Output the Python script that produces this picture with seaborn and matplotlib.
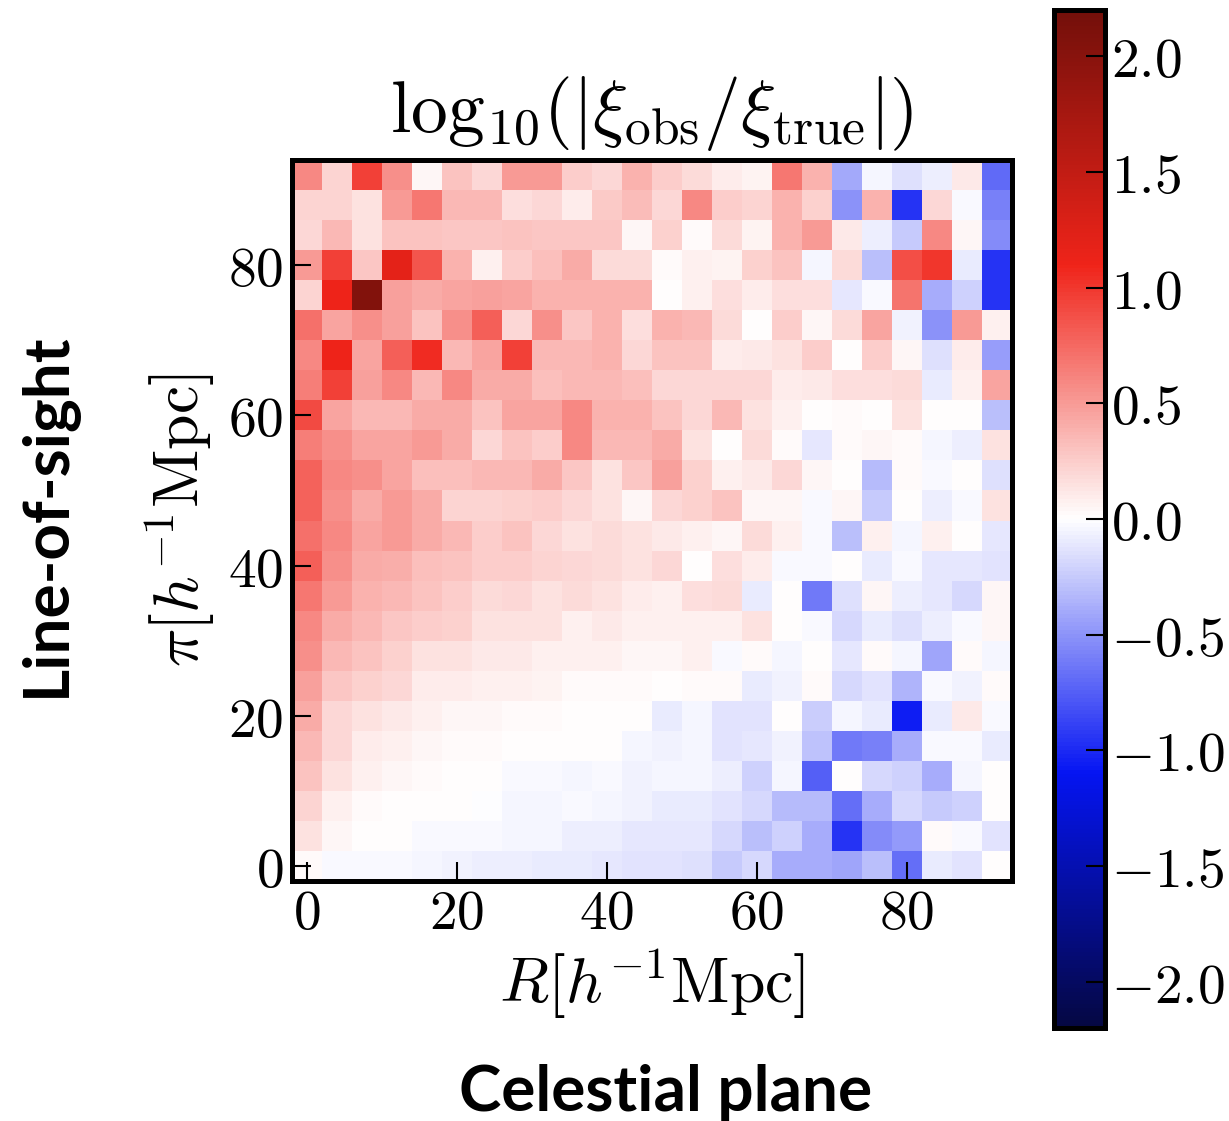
import numpy as np
import pandas as pd
import matplotlib
matplotlib.use("Agg")
import matplotlib.pyplot as plt
from matplotlib.ticker import FuncFormatter
from matplotlib.colors import LinearSegmentedColormap
import seaborn as sns

# Projected separation bins (cell centres, h^-1 Mpc)
R_bins = [0, 4, 8, 12, 16, 20, 24, 28, 32, 36, 40, 44,
          48, 52, 56, 60, 64, 68, 72, 76, 80, 84, 88, 92]
# Line-of-sight bins, listed from the top row (largest pi) downwards
pi_bins = [92, 88, 84, 80, 76, 72, 68, 64, 60, 56, 52, 48,
           44, 40, 36, 32, 28, 24, 20, 16, 12, 8, 4, 0]

# log10(|xi_obs / xi_true|), one row per pi bin (top to bottom)
row_pi92 = [0.60, 0.22, 0.95, 0.55, 0.05, 0.30, 0.20, 0.50, 0.50, 0.25, 0.20, 0.38,
            0.25, 0.18, 0.10, 0.06, 0.68, 0.38, -0.40, -0.05, -0.14, -0.08, 0.12, -0.70]
row_pi88 = [0.22, 0.22, 0.15, 0.50, 0.68, 0.35, 0.35, 0.16, 0.20, 0.10, 0.27, 0.33,
            0.20, 0.60, 0.25, 0.22, 0.38, 0.24, -0.50, 0.38, -0.95, 0.20, -0.02, -0.60]
row_pi84 = [0.20, 0.35, 0.14, 0.30, 0.30, 0.28, 0.28, 0.30, 0.28, 0.28, 0.28, 0.05,
            0.24, 0.03, 0.18, 0.06, 0.38, 0.50, 0.12, -0.07, -0.25, 0.60, 0.05, -0.55]
row_pi80 = [0.50, 0.95, 0.28, 1.20, 0.85, 0.38, 0.07, 0.25, 0.32, 0.42, 0.18, 0.18,
            0.03, 0.08, 0.06, 0.24, 0.30, -0.04, 0.18, -0.30, 0.88, 1.00, -0.10, -0.95]
row_pi76 = [0.22, 1.10, 2.05, 0.47, 0.42, 0.45, 0.48, 0.45, 0.38, 0.38, 0.38, 0.38,
            0.01, 0.08, 0.16, 0.10, 0.16, 0.16, -0.12, -0.02, 0.70, -0.38, -0.22, -0.95]
row_pi72 = [0.72, 0.45, 0.55, 0.48, 0.30, 0.55, 0.80, 0.20, 0.55, 0.28, 0.38, 0.16,
            0.38, 0.35, 0.18, 0.00, 0.25, 0.05, 0.18, 0.45, -0.06, -0.50, 0.50, 0.07]
row_pi68 = [0.60, 1.10, 0.45, 0.80, 1.05, 0.35, 0.45, 0.95, 0.35, 0.35, 0.38, 0.20,
            0.30, 0.30, 0.10, 0.12, 0.14, 0.25, 0.00, 0.25, 0.05, -0.15, 0.09, -0.45]
row_pi64 = [0.65, 0.95, 0.47, 0.60, 0.35, 0.60, 0.42, 0.42, 0.32, 0.35, 0.35, 0.32,
            0.20, 0.20, 0.20, 0.20, 0.09, 0.12, 0.16, 0.16, 0.18, -0.10, 0.08, 0.45]
row_pi60 = [0.90, 0.45, 0.35, 0.35, 0.42, 0.42, 0.30, 0.45, 0.45, 0.60, 0.38, 0.38,
            0.30, 0.20, 0.35, 0.14, 0.08, 0.00, 0.03, 0.00, 0.14, 0.00, 0.00, -0.30]
row_pi56 = [0.65, 0.55, 0.45, 0.45, 0.50, 0.42, 0.20, 0.30, 0.25, 0.60, 0.35, 0.35,
            0.42, 0.14, 0.00, 0.18, 0.02, -0.12, 0.02, 0.05, 0.03, -0.04, -0.07, 0.14]
row_pi52 = [0.78, 0.60, 0.55, 0.45, 0.32, 0.32, 0.35, 0.35, 0.42, 0.28, 0.14, 0.28,
            0.47, 0.24, 0.08, 0.12, 0.20, 0.05, 0.00, -0.32, 0.03, -0.02, 0.00, -0.15]
row_pi48 = [0.78, 0.55, 0.42, 0.50, 0.42, 0.22, 0.22, 0.24, 0.25, 0.20, 0.14, 0.04,
            0.20, 0.24, 0.30, 0.04, 0.04, -0.03, 0.04, -0.25, 0.00, -0.08, -0.02, 0.14]
row_pi44 = [0.72, 0.60, 0.45, 0.50, 0.42, 0.35, 0.25, 0.30, 0.20, 0.14, 0.18, 0.14,
            0.12, 0.07, 0.04, 0.18, 0.07, -0.03, -0.30, 0.07, -0.05, 0.07, 0.00, -0.11]
row_pi40 = [0.80, 0.55, 0.42, 0.40, 0.32, 0.30, 0.25, 0.25, 0.22, 0.20, 0.18, 0.14,
            0.20, 0.00, 0.16, 0.10, -0.02, -0.02, 0.00, -0.10, -0.02, -0.11, -0.11, -0.13]
row_pi36 = [0.68, 0.50, 0.38, 0.35, 0.30, 0.25, 0.18, 0.20, 0.14, 0.18, 0.14, 0.09,
            0.08, 0.16, 0.18, -0.10, 0.00, -0.62, -0.15, 0.04, -0.08, -0.11, -0.18, 0.04]
row_pi32 = [0.60, 0.42, 0.35, 0.28, 0.25, 0.24, 0.14, 0.14, 0.14, 0.08, 0.12, 0.08,
            0.08, 0.08, 0.07, 0.14, 0.00, -0.02, -0.18, -0.10, -0.15, -0.08, -0.03, 0.05]
row_pi28 = [0.55, 0.35, 0.30, 0.24, 0.14, 0.14, 0.12, 0.12, 0.08, 0.07, 0.07, 0.04,
            0.05, 0.07, -0.02, 0.03, -0.05, 0.00, -0.11, 0.03, -0.05, -0.42, 0.02, -0.05]
row_pi24 = [0.48, 0.28, 0.24, 0.20, 0.10, 0.10, 0.08, 0.08, 0.06, 0.02, 0.03, 0.02,
            0.00, 0.02, 0.03, -0.10, -0.06, 0.03, -0.18, -0.13, -0.35, -0.02, -0.06, 0.02]
row_pi20 = [0.42, 0.20, 0.14, 0.12, 0.07, 0.05, 0.04, 0.03, 0.03, 0.01, 0.00, 0.01,
            -0.10, -0.05, -0.13, -0.13, 0.00, -0.23, -0.04, -0.10, -1.05, -0.10, 0.12, -0.02]
row_pi16 = [0.36, 0.20, 0.09, 0.07, 0.04, 0.03, 0.02, 0.01, 0.00, 0.00, 0.00, -0.04,
            -0.06, -0.05, -0.13, -0.12, -0.06, -0.28, -0.62, -0.60, -0.38, -0.03, -0.02, -0.10]
row_pi12 = [0.30, 0.14, 0.08, 0.05, 0.02, 0.01, 0.00, -0.02, -0.03, -0.04, -0.02, -0.06,
            -0.05, -0.05, -0.08, -0.22, -0.04, -0.75, 0.00, -0.18, -0.22, -0.38, -0.04, 0.00]
row_pi8 = [0.22, 0.08, 0.03, 0.01, 0.00, 0.00, -0.01, -0.04, -0.04, -0.03, -0.04, -0.06,
           -0.10, -0.10, -0.13, -0.18, -0.32, -0.32, -0.68, -0.38, -0.18, -0.25, -0.22, 0.00]
row_pi4 = [0.14, 0.04, 0.00, 0.00, -0.02, -0.02, -0.03, -0.05, -0.05, -0.07, -0.08, -0.11,
           -0.11, -0.11, -0.18, -0.30, -0.22, -0.38, -0.95, -0.55, -0.47, 0.03, -0.02, -0.13]
row_pi0 = [0.03, -0.02, -0.03, -0.03, -0.04, -0.06, -0.07, -0.07, -0.09, -0.10, -0.11, -0.13,
           -0.13, -0.15, -0.25, -0.18, -0.38, -0.38, -0.42, -0.30, -0.68, -0.10, -0.13, 0.00]

rows = [row_pi92, row_pi88, row_pi84, row_pi80, row_pi76, row_pi72, row_pi68, row_pi64,
        row_pi60, row_pi56, row_pi52, row_pi48, row_pi44, row_pi40, row_pi36, row_pi32,
        row_pi28, row_pi24, row_pi20, row_pi16, row_pi12, row_pi8, row_pi4, row_pi0]

tick_values = [0, 20, 40, 60, 80]
cbar_ticks = [-2.0, -1.5, -1.0, -0.5, 0.0, 0.5, 1.0, 1.5, 2.0]

df = pd.DataFrame(rows, index=pi_bins, columns=R_bins)

# Diverging map: navy -> blue -> white -> red -> dark red
div_cmap = LinearSegmentedColormap.from_list(
    "div_seismic",
    [(0.00, (0.02, 0.03, 0.26)),
     (0.25, (0.02, 0.08, 0.95)),
     (0.50, (1.00, 1.00, 1.00)),
     (0.75, (0.94, 0.14, 0.10)),
     (1.00, (0.45, 0.06, 0.04))])

plt.rcParams["mathtext.fontset"] = "cm"

W, H = 1229, 1121
fig = plt.figure(figsize=(W / 100, H / 100), dpi=100)
ax = fig.add_axes([292 / W, (H - 881) / H, 720 / W, 721 / H])
cax = fig.add_axes([1054 / W, (H - 1028) / H, 51 / W, 1018 / H])

sns.heatmap(df, ax=ax, cmap=div_cmap, vmin=-2.2, vmax=2.2,
            cbar_ax=cax, xticklabels=False, yticklabels=False, linewidths=0)

# Frame
for s in ax.spines.values():
    s.set_visible(True)
    s.set_linewidth(3.6)
    s.set_color("black")

# Ticks at physical positions, placed at the matching cell centres
xpos = [R_bins.index(v) + 0.5 for v in tick_values]
ypos = [pi_bins.index(v) + 0.5 for v in tick_values]
ax.set_xticks(xpos)
ax.set_xticklabels([f"${v}$" for v in tick_values])
ax.set_yticks(ypos)
ax.set_yticklabels([f"${v}$" for v in tick_values], rotation=0)
ax.tick_params(direction="in", length=14, width=1.5, labelsize=40,
               top=False, right=False, pad=6, colors="black")
ax.tick_params(axis="x", pad=4)

ax.set_xlabel(r"$R[h^{-1}{\rm Mpc}]$", fontsize=46, labelpad=4)
ax.set_ylabel(r"$\pi[h^{-1}{\rm Mpc}]$", fontsize=46, labelpad=8)
ax.set_title(r"$\mathrm{log}_{10}(|\xi_{\rm obs}/\xi_{\rm true}|)$", fontsize=53, pad=20)

# Colour bar
cbar = ax.collections[0].colorbar
cbar.outline.set_linewidth(3.6)
cbar.outline.set_edgecolor("black")
cbar.set_ticks(cbar_ticks)
cbar.ax.yaxis.set_major_formatter(FuncFormatter(lambda v, p: f"${v:.1f}$"))
cbar.ax.tick_params(direction="in", length=14, width=1.5, labelsize=40, pad=4)

# Direction annotations
fig.text(46 / W, 1 - 515 / H, "Line-of-sight", rotation=90, ha="center", va="center",
         family="Lato", weight="bold", fontsize=46)
fig.text(666 / W, 1 - 1111 / H, "Celestial plane", ha="center", va="baseline",
         family="Lato", weight="bold", fontsize=46)

fig.savefig("out.png", dpi=100)
